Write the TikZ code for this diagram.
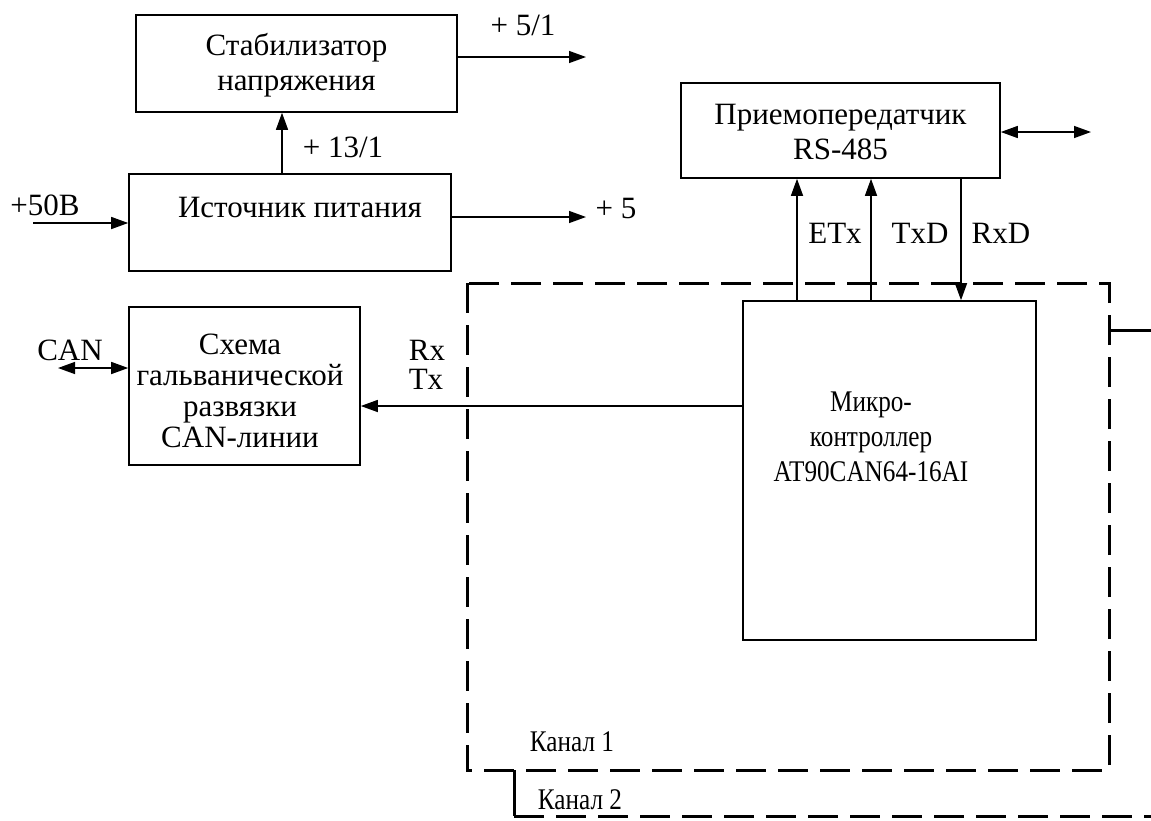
\documentclass[tikz,border=0pt]{standalone}
\usepackage{fontspec}
\setmainfont{Liberation Serif}
\newfontfamily\narrowserif[FakeStretch=0.84]{Liberation Serif}
\usetikzlibrary{arrows.meta}
\begin{document}
\begin{tikzpicture}[x=1pt,y=-1pt,
  box/.style={draw, line width=1.6pt, inner sep=0pt},
  arr/.style={line width=1.4pt, -{Triangle[length=17pt,width=12pt]}},
  darr/.style={line width=1.4pt, {Triangle[length=17pt,width=12pt]}-{Triangle[length=17pt,width=12pt]}},
  lbl/.style={font=\fontsize{31}{35}\selectfont, inner sep=0pt, align=center},
  nlbl/.style={font=\narrowserif\fontsize{30}{35}\selectfont, inner sep=0pt, align=center},
  dsh/.style={line width=3pt, dash pattern=on 30pt off 12pt},
  sol/.style={line width=3pt}]
\useasboundingbox (0,0) rectangle (1151,820);

% boxes
\node[box, minimum width=321pt, minimum height=97pt] (stab) at (296.5,63.5) {};
\node[lbl] (stabt) at (296.5,65) {Стабилизатор\\напряжения};
\node[box, minimum width=322pt, minimum height=97pt] (ist) at (290,222.5) {};
\node[lbl] (istt) at (300,207) {Источник питания};
\node[box, minimum width=319pt, minimum height=95pt] (rs) at (840.5,130.5) {};
\node[lbl] (rst) at (840.5,132) {Приемопередатчик\\RS-485};
\node[box, minimum width=231pt, minimum height=158pt] (can) at (244.5,386) {};
\node[lbl, font=\fontsize{31}{31}\selectfont] (cant) at (240,391) {Схема\\гальванической\\развязки\\CAN-линии};
\node[box, minimum width=293pt, minimum height=339pt] (mc) at (889.5,470.5) {};
\node[nlbl] (mct) at (871,437) {Микро-\\контроллер\\AT90CAN64-16AI};

% channel frames
\draw[dsh] (467,283) rectangle (1109,770);
\coordinate (c2a) at (1109,330);
\coordinate (c2b) at (1151,330);
\coordinate (c2c) at (514,770);
\coordinate (c2d) at (514,816);
\coordinate (c2e) at (1151,816);
\draw[sol] (c2a) -- (c2b);
\draw[sol] (c2c) -- (c2d);
\draw[dsh] (c2d) -- (c2e);

% connectors
\coordinate (o51) at (586,57);
\draw[arr] (stab.east |- o51) -- (o51);
\coordinate (u13) at (282,0);
\draw[arr] (ist.north -| u13) -- (stab.south -| u13);
\coordinate (in50) at (33,223);
\draw[arr] (in50) -- (ist.west |- in50);
\coordinate (o5) at (586,217);
\draw[arr] (ist.east |- o5) -- (o5);
\coordinate (rsx) at (1091,132);
\draw[darr] (rs.east |- rsx) -- (rsx);
\coordinate (xe) at (797,0);
\coordinate (xt) at (871,0);
\coordinate (xr) at (961,0);
\draw[arr] (mc.north -| xe) -- (rs.south -| xe);
\draw[arr] (mc.north -| xt) -- (rs.south -| xt);
\draw[arr] (rs.south -| xr) -- (mc.north -| xr);
\coordinate (canx) at (58,368);
\draw[darr] (canx) -- (can.west |- canx);
\coordinate (tx) at (0,406);
\draw[arr] (mc.west |- tx) -- (can.east |- tx);

% labels
\node[lbl] (l51) at (523,25) {+ 5/1};
\node[lbl] (l13) at (343,147) {+ 13/1};
\node[lbl] (l50) at (45,205) {+50В};
\node[lbl] (l5) at (616,208) {+ 5};
\node[lbl] (letx) at (835,233) {ETx};
\node[lbl] (ltxd) at (920,233) {TxD};
\node[lbl] (lrxd) at (1001,233) {RxD};
\node[lbl] (lcan) at (70,350) {CAN};
\node[lbl] (lrx) at (427,350) {Rx};
\node[lbl] (ltx) at (426,379) {Tx};
\node[nlbl] (lk1) at (572,742) {Канал 1};
\node[nlbl] (lk2) at (580,800) {Канал 2};
\end{tikzpicture}
\end{document}
